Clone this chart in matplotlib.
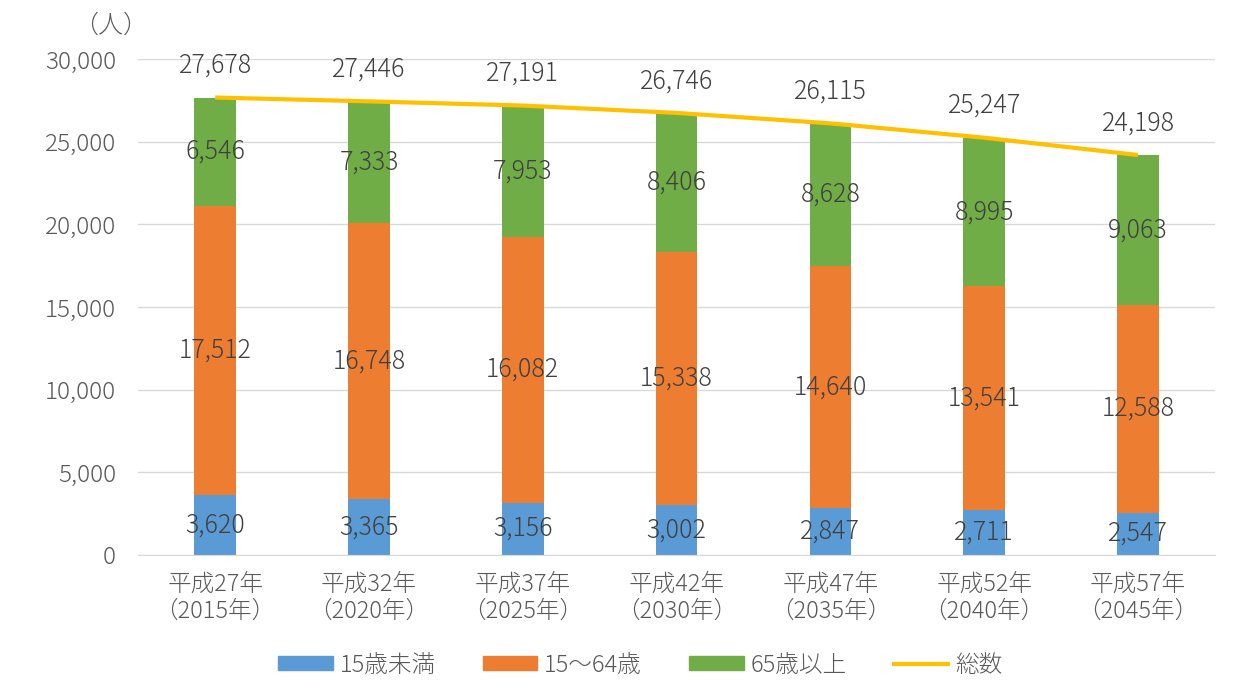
import matplotlib
matplotlib.use("Agg")
import numpy as np
import matplotlib.pyplot as plt
from matplotlib.patches import Patch
from matplotlib.lines import Line2D

plt.rcParams["font.family"] = ["Noto Sans CJK JP", "DejaVu Sans"]
plt.rcParams["font.weight"] = "light"

years = ["平成27年\n（2015年）", "平成32年\n（2020年）", "平成37年\n（2025年）",
         "平成42年\n（2030年）", "平成47年\n（2035年）", "平成52年\n（2040年）",
         "平成57年\n（2045年）"]
under15 = [3620, 3365, 3156, 3002, 2847, 2711, 2547]
age15_64 = [17512, 16748, 16082, 15338, 14640, 13541, 12588]
over65 = [6546, 7333, 7953, 8406, 8628, 8995, 9063]
total = [27678, 27446, 27191, 26746, 26115, 25247, 24198]

C_BLUE = "#5B9BD5"
C_ORANGE = "#ED7D31"
C_GREEN = "#70AD47"
C_GOLD = "#FFC000"
TXT = "#595959"
LBL = "#404040"

fig = plt.figure(figsize=(12.46, 6.8), dpi=100)
ax = fig.add_axes([0.111, 0.184, 0.864, 0.729])

x = np.arange(len(years))
w = 0.27
u = np.array(under15)
m = np.array(age15_64)
o = np.array(over65)
ax.bar(x, u, w, color=C_BLUE, zorder=2)
ax.bar(x, m, w, bottom=u, color=C_ORANGE, zorder=2)
ax.bar(x, o, w, bottom=u + m, color=C_GREEN, zorder=2)
ax.plot(x, total, color=C_GOLD, lw=3, zorder=3, solid_capstyle="butt")

# segment values centred in each block, totals above the line
fs = 18
for i in range(len(x)):
    ax.text(x[i], u[i] / 2, f"{u[i]:,}", ha="center", va="center", fontsize=fs, color=LBL, zorder=4)
    ax.text(x[i], u[i] + m[i] / 2, f"{m[i]:,}", ha="center", va="center", fontsize=fs, color=LBL, zorder=4)
    ax.text(x[i], u[i] + m[i] + o[i] / 2, f"{o[i]:,}", ha="center", va="center", fontsize=fs, color=LBL, zorder=4)
    ax.annotate(f"{total[i]:,}", (x[i], total[i]), xytext=(0, 23), textcoords="offset points",
                ha="center", va="center", fontsize=fs, color=LBL, zorder=4)

ax.set_xlim(-0.5, 6.5)
ax.set_ylim(0, 30000)
ax.set_yticks(np.arange(0, 30001, 5000))
ax.set_yticklabels([f"{v:,}" for v in range(0, 30001, 5000)])
ax.set_xticks(x)
ax.set_xticklabels(years, linespacing=1.1)
ax.tick_params(axis="y", length=0, labelsize=17.5, labelcolor=TXT, pad=16)
ax.tick_params(axis="x", length=0, labelsize=17, labelcolor=TXT, pad=12)
ax.grid(axis="y", color="#D9D9D9", lw=1, zorder=0)
for s in ["top", "right", "left"]:
    ax.spines[s].set_visible(False)
ax.spines["bottom"].set_color("#D9D9D9")

fig.text(0.089, 0.963, "（人）", ha="center", va="center", fontsize=18, color=TXT)

handles = [Patch(color=C_BLUE), Patch(color=C_ORANGE), Patch(color=C_GREEN),
           Line2D([], [], color=C_GOLD, lw=3)]
labels = ["15歳未満", "15～64歳", "65歳以上", "総数"]
fig.legend(handles, labels, loc="center", bbox_to_anchor=(0.514, 0.022), ncol=4,
           frameon=False, prop={"size": 17, "weight": "light"}, labelcolor=TXT,
           handlelength=2.3, handleheight=0.55, columnspacing=2.0, handletextpad=0.3)

fig.savefig("out.png", dpi=100)
